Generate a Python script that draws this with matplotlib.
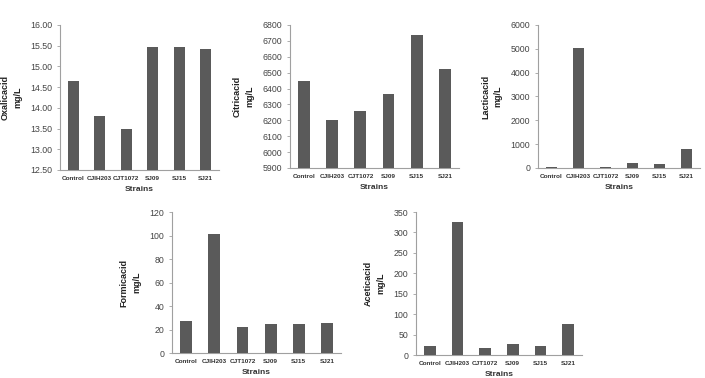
import matplotlib
matplotlib.use("Agg")
import matplotlib.pyplot as plt

plt.rcParams['font.family'] = ['Liberation Sans Narrow', 'Liberation Sans', 'DejaVu Sans']

strains = ["Control", "CJIH203", "CJT1072", "SJ09", "SJ15", "SJ21"]
oxalic = [14.65, 13.80, 13.50, 15.48, 15.46, 15.41]
citric = [6445, 6200, 6260, 6365, 6740, 6520]
lactic = [30, 5030, 30, 220, 160, 790]
formic = [27, 101.5, 22.5, 24.5, 25, 25.5]
acetic = [21, 326, 18, 26, 21, 75]

panels = [
    ("Oxalic acid", oxalic, (12.5, 16.0), [12.5 + 0.5 * i for i in range(8)], "{:.2f}",
     [0.0851, 0.5503, 0.2255, 0.3836]),
    ("Citric acid", citric, (5900, 6800), list(range(5900, 6801, 100)), "{:.0f}",
     [0.4113, 0.5556, 0.2397, 0.3783]),
    ("Lactic acid", lactic, (0, 6000), list(range(0, 6001, 1000)), "{:.0f}",
     [0.7631, 0.5556, 0.2298, 0.3783]),
    ("Formic acid", formic, (0, 120), list(range(0, 121, 20)), "{:.0f}",
     [0.2440, 0.0661, 0.2397, 0.3730]),
    ("Acetic acid", acetic, (0, 350), list(range(0, 351, 50)), "{:.0f}",
     [0.5900, 0.0608, 0.2355, 0.3783]),
]

fig = plt.figure(figsize=(7.05, 3.78), dpi=100)
fig.patch.set_facecolor("white")
grey = "#a0a0a0"
for name, vals, ylim, yticks, fmt, rect in panels:
    ax = fig.add_axes(rect)
    x = list(range(len(strains)))
    ax.bar(x, vals, width=0.42, color="#5a5a5a", zorder=3)
    ax.set_xlim(-0.5, len(strains) - 0.5)
    ax.set_ylim(*ylim)
    ax.set_yticks(yticks)
    ax.set_yticklabels([fmt.format(t) for t in yticks], fontsize=6.3, color="#444444")
    ax.set_xticks(x)
    ax.set_xticklabels(strains, fontsize=4.6, fontweight="bold", color="#333333")
    for s in ["top", "right"]:
        ax.spines[s].set_visible(False)
    for s in ["left", "bottom"]:
        ax.spines[s].set_color(grey)
        ax.spines[s].set_linewidth(0.8)
    ax.tick_params(axis="y", length=2.5, width=0.6, color=grey, pad=3)
    ax.tick_params(axis="x", length=0, pad=4)
    ax.set_xlabel("Strains", fontsize=6, fontweight="bold", color="#333333", labelpad=4)
    ax.set_ylabel(name.replace(" ", "") + "\nmg/L", fontsize=6.5, fontweight="bold",
                  color="#222222", labelpad=6, linespacing=1.5)

fig.savefig("out.png", dpi=100, facecolor="white")
